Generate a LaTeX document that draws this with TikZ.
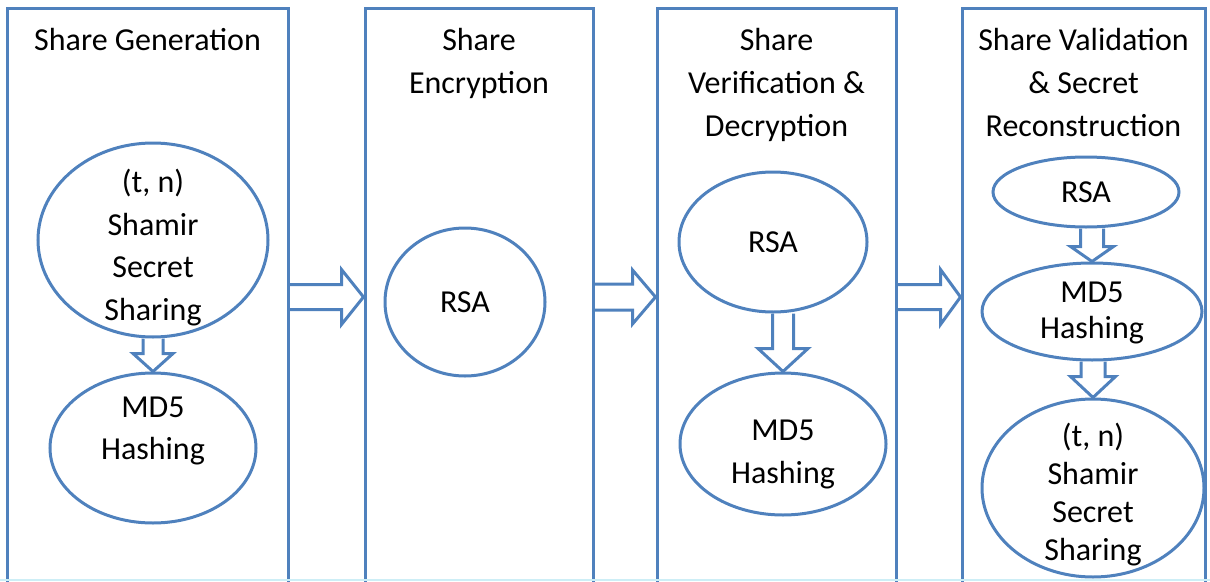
\documentclass[tikz,border=0pt]{standalone}
\usepackage{fontspec}
\setmainfont{Carlito}
\usetikzlibrary{shapes.geometric,calc}
\definecolor{ob}{HTML}{4F81BD}
\definecolor{edge}{RGB}{205,238,246}
\tikzset{
  stage/.style={draw=ob, line width=3pt, rectangle, inner sep=0pt},
  oval/.style={draw=ob, line width=3pt, ellipse, inner sep=0pt},
  lbl/.style={align=center, inner sep=0pt, anchor=north},
  blk/.style={draw=ob, line width=3pt, line join=miter},
}
\newcommand\downblk[5]{% from, to, shaft half, head half, head length
  \draw[blk] let \p1=(#1.south), \p2=(#2.north) in
    (\x2-#3pt,\y1) -- (\x2-#3pt,\y2+#5pt) -- (\x2-#4pt,\y2+#5pt) -- (\x2,\y2)
    -- (\x2+#4pt,\y2+#5pt) -- (\x2+#3pt,\y2+#5pt) -- (\x2+#3pt,\y1);
}
\newcommand\rightblk[5]{% from, to, shaft half, head half, head length
  \draw[blk] let \p1=(#1.east), \p2=(#2.west) in
    (\x1,\y1+3pt+#3pt) -- (\x2-#5pt,\y1+3pt+#3pt) -- (\x2-#5pt,\y1+3pt+#4pt) -- (\x2,\y1+3pt)
    -- (\x2-#5pt,\y1+3pt-#4pt) -- (\x2-#5pt,\y1+3pt-#3pt) -- (\x1,\y1+3pt-#3pt);
}
\begin{document}
\begin{tikzpicture}[x=1pt,y=-1pt]
\useasboundingbox (0,0) rectangle (1210,581);
\clip (0,0) rectangle (1210,581);
% stage boxes (their bottom edges run off the picture)
\node[stage, minimum width=281pt, minimum height=584pt] (b1) at (147.5,300) {};
\node[stage, minimum width=228pt, minimum height=584pt] (b2) at (479,300) {};
\node[stage, minimum width=239pt, minimum height=584pt] (b3) at (776.5,300) {};
\node[stage, minimum width=243pt, minimum height=584pt] (b4) at (1083.5,300) {};
\draw[edge, line width=2pt] (0,580) -- (1210,580);
% headers
\node[lbl, font=\fontsize{32}{43}\selectfont] (h1) at (147.5,28) {Share Generation};
\node[lbl, font=\fontsize{32}{43}\selectfont] (h2) at (479,28) {Share\\Encryption};
\node[lbl, font=\fontsize{32}{43}\selectfont] (h3) at (776.5,28) {Share\\Verification \&\\Decryption};
\node[lbl, font=\fontsize{32}{43}\selectfont] (h4) at (1083.5,28) {Share Validation\\\& Secret\\Reconstruction};
% ellipses
\node[oval, minimum width=230pt, minimum height=194pt] (e1a) at (153,240) {};
\node[oval, minimum width=206pt, minimum height=150pt] (e1b) at (153,448) {};
\node[oval, minimum width=160pt, minimum height=148pt] (e2) at (465,302) {};
\node[oval, minimum width=188pt, minimum height=140pt] (e3a) at (773,242) {};
\node[oval, minimum width=206pt, minimum height=142pt] (e3b) at (783,444) {};
\node[oval, minimum width=186pt, minimum height=70pt] (e4a) at (1086,192) {};
\node[oval, minimum width=220pt, minimum height=97pt] (e4b) at (1092,311.5) {};
\node[oval, minimum width=222pt, minimum height=178pt] (e4c) at (1093,488) {};
% ellipse texts
\node[lbl, font=\fontsize{32}{42.5}\selectfont] (t1a) at (153,169) {(t, n)\\Shamir\\Secret\\Sharing};
\node[lbl, font=\fontsize{32}{42}\selectfont] (t1b) at (153,397) {MD5\\Hashing};
\node[lbl, font=\fontsize{32}{42}\selectfont] (t2) at (465,292) {RSA};
\node[lbl, font=\fontsize{32}{42}\selectfont] (t3a) at (773,232) {RSA};
\node[lbl, font=\fontsize{32}{43}\selectfont] (t3b) at (783,420) {MD5\\Hashing};
\node[lbl, font=\fontsize{32}{42}\selectfont] (t4a) at (1086,182) {RSA};
\node[lbl, font=\fontsize{32}{36}\selectfont] (t4b) at (1092,282) {MD5\\Hashing};
\node[lbl, font=\fontsize{32}{38}\selectfont] (t4c) at (1093,423) {(t, n)\\Shamir\\Secret\\Sharing};
% block arrows between stages
\rightblk{b1}{b2}{12.5}{27.5}{22}
\rightblk{b2}{b3}{13}{27}{23}
\rightblk{b3}{b4}{12.5}{27.5}{20}
% block arrows inside stages
\downblk{e1a}{e1b}{10}{20}{18}
\downblk{e3a}{e3b}{10.5}{25}{23}
\downblk{e4a}{e4b}{11.5}{21.5}{15}
\downblk{e4b}{e4c}{12}{22.5}{21}
\end{tikzpicture}
\end{document}
